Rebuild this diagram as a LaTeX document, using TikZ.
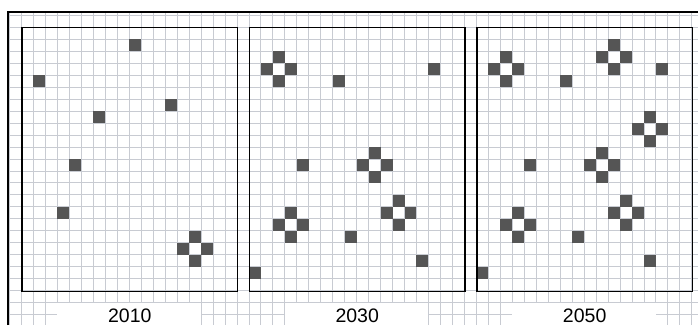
\documentclass[tikz,border=0pt]{standalone}
\usepackage{fontspec}
\setmainfont{Liberation Sans}
\definecolor{gridc}{RGB}{200,203,210}
\definecolor{cellc}{RGB}{85,85,85}
\newcommand\cw{11.97}
\newcommand\gx{9.5}
\newcommand\gy{15.3}
% one dark cell: panel left column, column a, row b (panel relative)
\newcommand\darkcell[3]{\fill[cellc] ({\gx+(#1+#2)*\cw},{\gy+(1+#3)*\cw}) rectangle ++(\cw,\cw);}
\newcommand\crossat[3]{%
  \darkcell{#1}{#2}{#3-1}\darkcell{#1}{#2-1}{#3}\darkcell{#1}{#2+1}{#3}\darkcell{#1}{#2}{#3+1}}
\begin{document}
\begin{tikzpicture}[x=1pt,y=-1pt,
  gridline/.style={draw=gridc,line width=0.8pt},
  panelbox/.style={draw=black,line width=1.2pt,minimum width=215.46pt,minimum height=263.34pt,inner sep=0pt,anchor=north west},
  yearlabel/.style={font=\fontsize{19.5}{20}\selectfont,inner sep=0pt},
  labelback/.style={fill=white},
  frameline/.style={draw=black,line width=2pt}
]
\useasboundingbox (0,0) rectangle (698,325);
% background grid
\foreach \i in {0,...,57} \draw[gridline] ({\gx+\i*\cw},12) -- ({\gx+\i*\cw},325);
\foreach \j in {0,...,25} \draw[gridline] (8,{\gy+\j*\cw}) -- (698,{\gy+\j*\cw});
% white backs behind the year labels
\foreach \c in {4,23,42} \fill[labelback] ({\gx+\c*\cw},{\gy+24*\cw}) rectangle ++({12*\cw},30);
% panel 1 (2010)
\foreach \a/\b in {9/1,1/4,12/6,6/7,4/11,3/15} {\darkcell{1}{\a}{\b}}
\crossat{1}{14}{18}
% panel 2 (2030)
\foreach \a/\b in {7/4,15/3,4/11,8/17,14/19,0/20} {\darkcell{20}{\a}{\b}}
\foreach \a/\b in {2/3,10/11,3/16,12/15} {\crossat{20}{\a}{\b}}
% panel 3 (2050)
\foreach \a/\b in {7/4,15/3,4/11,8/17,14/19,0/20} {\darkcell{39}{\a}{\b}}
\foreach \a/\b in {2/3,11/2,14/8,10/11,3/16,12/15} {\crossat{39}{\a}{\b}}
% panels
\node[panelbox] (p1) at (21.47,27.27) {};
\node[panelbox] (p2) at (248.9,27.27) {};
\node[panelbox] (p3) at (476.33,27.27) {};
% labels
\node[yearlabel] (l1) at (p1.south |- 0,315.8) {2010};
\node[yearlabel] (l2) at (p2.south |- 0,315.8) {2030};
\node[yearlabel] (l3) at (p3.south |- 0,315.8) {2050};
% outer frame
\coordinate (fb) at (8.3,325);
\coordinate (fc) at (8.3,12.2);
\coordinate (fr) at (698,12.2);
\draw[frameline] (fb) -- (fc) -- (fr);
\end{tikzpicture}
\end{document}
